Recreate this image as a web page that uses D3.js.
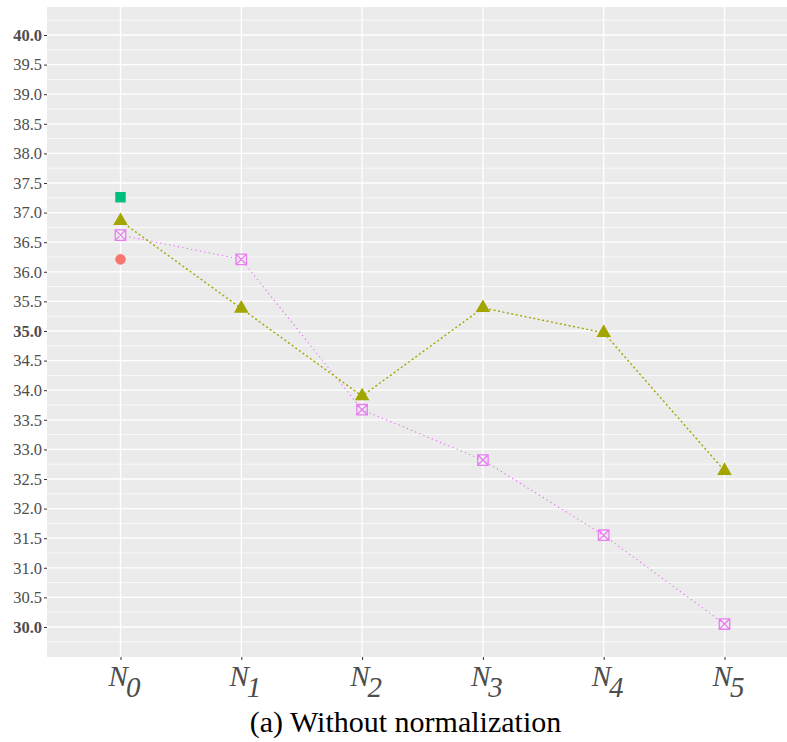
<!DOCTYPE html>
<html>
<head>
<meta charset="utf-8">
<script src="https://cdn.jsdelivr.net/npm/d3@7"></script>
<style>
  html, body { margin: 0; padding: 0; background: #ffffff; }
  svg { display: block; }
</style>
</head>
<body>
<svg id="chart" width="787" height="742"></svg>
<script>
// ---------- data ----------
const categories = ["N0", "N1", "N2", "N3", "N4", "N5"];
const categorySubscripts = ["0", "1", "2", "3", "4", "5"];
const redCategories = ["N0"];
const redValues = [36.21];
const greenCategories = ["N0"];
const greenValues = [37.26];
const oliveValues = [36.86, 35.38, 33.90, 35.39, 34.97, 32.64];
const pinkValues = [36.62, 36.21, 33.67, 32.82, 31.55, 30.05];
const yTickValues = [30.0, 30.5, 31.0, 31.5, 32.0, 32.5, 33.0, 33.5, 34.0, 34.5, 35.0, 35.5, 36.0, 36.5, 37.0, 37.5, 38.0, 38.5, 39.0, 39.5, 40.0];
const yMinorValues = [29.75, 30.25, 30.75, 31.25, 31.75, 32.25, 32.75, 33.25, 33.75, 34.25, 34.75, 35.25, 35.75, 36.25, 36.75, 37.25, 37.75, 38.25, 38.75, 39.25, 39.75, 40.25];
const boldTicks = [30.0, 35.0, 40.0];
const titleText = "(a) Without normalization";

// ---------- layout ----------
const W = 787, H = 742;
const panel = { left: 47, top: 7, right: 787, bottom: 657 };
const svg = d3.select("#chart");

const x = d3.scalePoint().domain(categories).range([120.5, 724.5]);
const y = d3.scaleLinear().domain([29.493, 40.473]).range([panel.bottom, panel.top]);

const serif = "'Liberation Serif', 'DejaVu Serif', serif";

// panel background
svg.append("defs").append("clipPath").attr("id", "clip")
  .append("rect").attr("x", panel.left).attr("y", panel.top)
  .attr("width", panel.right - panel.left).attr("height", panel.bottom - panel.top);

svg.append("rect")
  .attr("x", panel.left).attr("y", panel.top)
  .attr("width", panel.right - panel.left).attr("height", panel.bottom - panel.top)
  .attr("fill", "#EBEBEB");

const g = svg.append("g").attr("clip-path", "url(#clip)");

// minor grid
g.selectAll("line.minor").data(yMinorValues).join("line")
  .attr("class", "minor")
  .attr("x1", panel.left).attr("x2", panel.right)
  .attr("y1", d => y(d)).attr("y2", d => y(d))
  .attr("stroke", "#ffffff").attr("stroke-width", 0.7);

// major grid
g.selectAll("line.major").data(yTickValues).join("line")
  .attr("class", "major")
  .attr("x1", panel.left).attr("x2", panel.right)
  .attr("y1", d => y(d)).attr("y2", d => y(d))
  .attr("stroke", "#ffffff").attr("stroke-width", 1.3);

g.selectAll("line.vmajor").data(categories).join("line")
  .attr("class", "vmajor")
  .attr("x1", d => x(d)).attr("x2", d => x(d))
  .attr("y1", panel.top).attr("y2", panel.bottom)
  .attr("stroke", "#ffffff").attr("stroke-width", 1.3);

// ---------- axes ----------
const yAxis = d3.axisLeft(y).tickValues(yTickValues).tickSize(3).tickPadding(2)
  .tickFormat(d3.format(".1f"));
const yAxisG = svg.append("g").attr("transform", `translate(${panel.left},0)`).call(yAxis);
yAxisG.attr("font-family", null);
yAxisG.select(".domain").remove();
yAxisG.selectAll(".tick line").attr("stroke", "#333333").attr("stroke-width", 1);
yAxisG.selectAll(".tick text")
  .attr("fill", "#4D4D4D")
  .style("font-family", serif)
  .style("font-size", "16.5px")
  .style("font-weight", d => boldTicks.includes(d) ? "bold" : "normal");

const xAxis = d3.axisBottom(x).tickSize(3).tickFormat("");
const xAxisG = svg.append("g").attr("transform", `translate(0,${panel.bottom})`).call(xAxis);
xAxisG.select(".domain").remove();
xAxisG.selectAll(".tick line").attr("stroke", "#333333").attr("stroke-width", 1);

// x labels: italic N with subscript
const xl = svg.append("g").selectAll("text").data(categories).join("text")
  .attr("x", d => x(d) + 4)
  .attr("y", 686)
  .attr("text-anchor", "middle")
  .attr("fill", "#4D4D4D")
  .style("font-family", serif)
  .style("font-style", "italic")
  .style("font-size", "29px");
xl.append("tspan").text("N");
xl.append("tspan").attr("dy", 11).attr("dx", -2).text((d, i) => categorySubscripts[i]);

// title
svg.append("text")
  .attr("x", 405.5).attr("y", 732)
  .attr("text-anchor", "middle")
  .attr("fill", "#000000")
  .style("font-family", serif)
  .style("font-size", "30px")
  .text(titleText);

// ---------- series ----------
const olive = "#A3A500", pink = "#E76BF3", red = "#F8766D", green = "#00BF7D";

const line = d3.line().x(d => x(d.c)).y(d => y(d.v));
const oliveData = categories.map((c, i) => ({ c, v: oliveValues[i] }));
const pinkData = categories.map((c, i) => ({ c, v: pinkValues[i] }));

g.append("path").datum(pinkData).attr("d", line)
  .attr("fill", "none").attr("stroke", pink).attr("stroke-width", 1.1)
  .attr("stroke-dasharray", "1.2,3.3");

g.append("path").datum(oliveData).attr("d", line)
  .attr("fill", "none").attr("stroke", olive).attr("stroke-width", 1.4)
  .attr("stroke-dasharray", "2,2.5");

// red circle
g.selectAll("path.red").data(redCategories.map((c, i) => ({ c, v: redValues[i] }))).join("path")
  .attr("class", "red")
  .attr("transform", d => `translate(${x(d.c)},${y(d.v)})`)
  .attr("d", d3.symbol(d3.symbolCircle, 87)())
  .attr("fill", red);

// green square
g.selectAll("path.green").data(greenCategories.map((c, i) => ({ c, v: greenValues[i] }))).join("path")
  .attr("class", "green")
  .attr("transform", d => `translate(${x(d.c)},${y(d.v)})`)
  .attr("d", d3.symbol(d3.symbolSquare, 110)())
  .attr("fill", green);

// olive triangles
g.selectAll("path.olive").data(oliveData).join("path")
  .attr("class", "olive")
  .attr("transform", d => `translate(${x(d.c)},${y(d.v)})`)
  .attr("d", d3.symbol(d3.symbolTriangle, 92)())
  .attr("fill", olive);

// pink boxed crosses
const boxCross = {
  draw(context, size) {
    const s = Math.sqrt(size) / 2;
    context.rect(-s, -s, 2 * s, 2 * s);
    context.moveTo(-s, -s); context.lineTo(s, s);
    context.moveTo(s, -s); context.lineTo(-s, s);
  }
};
g.selectAll("path.pink").data(pinkData).join("path")
  .attr("class", "pink")
  .attr("transform", d => `translate(${x(d.c)},${y(d.v)})`)
  .attr("d", d3.symbol(boxCross, 110)())
  .attr("fill", "none").attr("stroke", pink).attr("stroke-opacity", 0.85).attr("stroke-width", 1.3);
</script>
</body>
</html>
